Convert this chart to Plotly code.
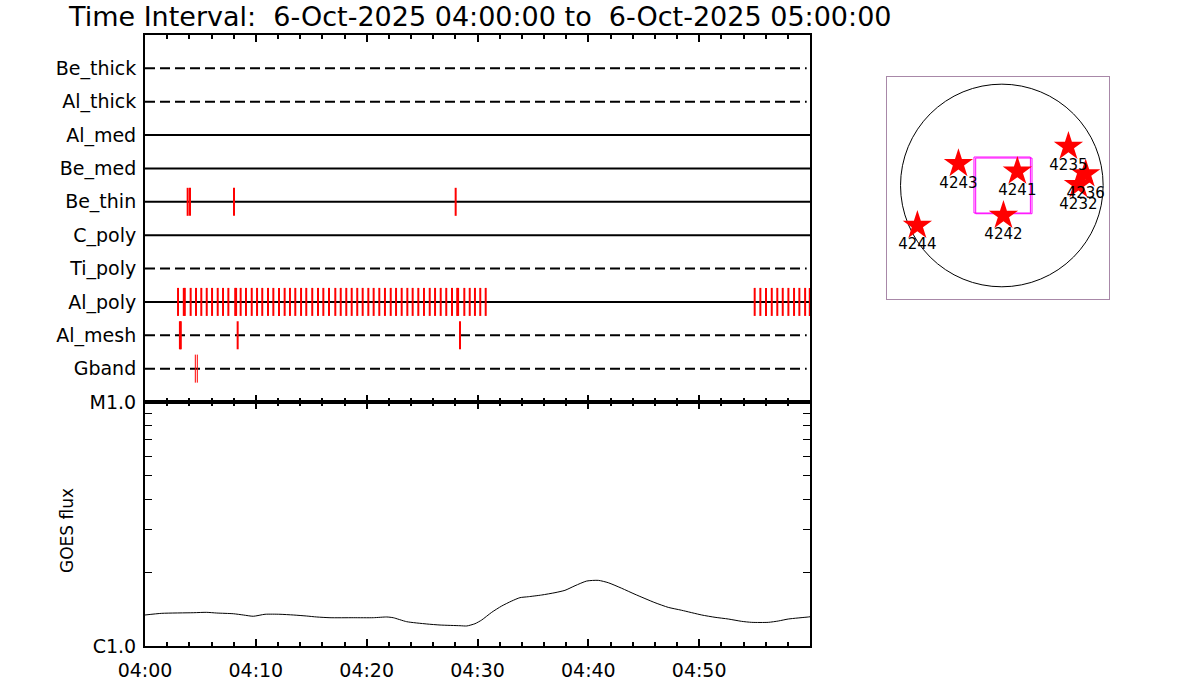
import plotly.graph_objects as go
import pandas as pd
import numpy as np

# ---------------- data ----------------
T0 = pd.Timestamp("2025-10-06 04:00:00")
title_text = "Time Interval:  6-Oct-2025 04:00:00 to  6-Oct-2025 05:00:00"

# filter rows, bottom to top
filters = ["Gband", "Al_mesh", "Al_poly", "Ti_poly", "C_poly",
           "Be_thin", "Be_med", "Al_med", "Al_thick", "Be_thick"]

# observation times, minutes after 04:00
obs_minutes = {
    "Gband": [4.54, 4.72],
    "Al_mesh": [3.15, 3.23, 8.36, 28.42],
    "Al_poly": [2.98, 3.50, 3.59, 4.12, 4.60, 5.08, 5.57, 6.05, 6.56, 7.04, 7.52,
                8.14, 8.22, 8.63, 9.11, 9.63, 10.11, 10.58, 11.10, 11.58, 12.09,
                12.60, 13.08, 13.56, 14.08, 14.55, 15.09, 15.61, 16.09, 16.60,
                17.17, 17.66, 18.16, 18.65, 19.15, 19.64, 20.15, 20.63, 21.14,
                21.65, 22.17, 22.65, 23.16, 23.67, 24.15, 24.66, 25.17, 25.69,
                26.17, 26.68, 27.18, 27.70, 28.17, 28.25, 28.81, 29.30, 29.77,
                30.25, 30.74,
                55.01, 55.52, 56.03, 56.55, 57.05, 57.54, 58.05, 58.56, 59.04,
                59.56, 59.98],
    "Be_thin": [3.85, 4.06, 8.03, 28.03],
}

# GOES flux (units of 1e-6 W/m^2) vs minutes after 04:00
goes_minutes = [0, 1.51, 4.36, 5.57, 6.47, 7.97, 8.87, 9.77, 10.83, 12.18, 13.38,
                14.59, 15.49, 16.69, 18.79, 20.60, 21.81, 22.40, 23.61, 25.42,
                26.62, 28.42, 29.03, 29.77, 30.38, 31.28, 32.18, 33.09, 33.83,
                34.58, 35.79, 36.99, 37.89, 38.80, 39.85, 40.90, 41.80, 43.01,
                44.21, 46.01, 47.21, 48.42, 50.23, 51.43, 52.63, 53.83, 54.74,
                56.24, 57.14, 58.04, 59.85, 60.0]
goes_flux = [1.340, 1.361, 1.369, 1.374, 1.365, 1.356, 1.340, 1.324, 1.349, 1.349,
             1.340, 1.327, 1.315, 1.306, 1.306, 1.306, 1.315, 1.306, 1.258, 1.231,
             1.219, 1.211, 1.208, 1.234, 1.278, 1.374, 1.458, 1.529, 1.578, 1.592,
             1.618, 1.654, 1.691, 1.766, 1.846, 1.858, 1.817, 1.724, 1.629, 1.505,
             1.440, 1.401, 1.340, 1.311, 1.290, 1.262, 1.250, 1.250, 1.266, 1.290,
             1.315, 1.318]

x_tick_minutes = [0, 10, 20, 30, 40, 50]
x_tick_labels = ["04:00", "04:10", "04:20", "04:30", "04:40", "04:50"]
goes_tick_vals = [1e-6, 1e-5]
goes_tick_labels = ["C1.0", "M1.0"]
goes_minor_vals = [2e-6, 3e-6, 4e-6, 5e-6, 6e-6, 7e-6, 8e-6, 9e-6]

# context map (arcsec-like units)
region_ids = ["4243", "4241", "4235", "4236", "4232", "4242", "4244"]
region_x = [-392, 192, 698, 869, 797, 54, -799]
region_y = [241, 165, 412, 139, 33, -272, -371]
disk_center = (38, 25)
disk_radius = 1004
fov_left = [-238, -221]
fov_right = [321, 337]
fov_bottom = [-248, -255]
fov_top = [307, 297]

# ---------------- styles ----------------
row_dash = {"Gband": "dash", "Al_mesh": "dash", "Al_poly": "solid", "Ti_poly": "dash",
            "C_poly": "solid", "Be_thin": "solid", "Be_med": "solid", "Al_med": "solid",
            "Al_thick": "dash", "Be_thick": "dash"}
FONT = "DejaVu Sans"


def tm(m):
    return T0 + pd.to_timedelta(m, unit="m")


fig = go.Figure()

# filter rows
for i, f in enumerate(filters):
    dash = "10px,5px" if row_dash[f] == "dash" else "solid"
    fig.add_trace(go.Scatter(x=[tm(0), tm(59.7 if dash != "solid" else 60)], y=[i, i],
                             mode="lines", line=dict(color="black", width=2, dash=dash),
                             xaxis="x", yaxis="y", hoverinfo="skip", showlegend=False))

for i, f in enumerate(filters):
    if f not in obs_minutes:
        continue
    xs, ys = [], []
    for m in obs_minutes[f]:
        xs += [tm(m), tm(m), None]
        ys += [i - 0.42, i + 0.42, None]
    fig.add_trace(go.Scatter(x=xs, y=ys, mode="lines",
                             line=dict(color="red", width=1 if f == "Gband" else 2),
                             xaxis="x", yaxis="y", hoverinfo="skip", showlegend=False))

# GOES curve
fig.add_trace(go.Scatter(x=[tm(m) for m in goes_minutes], y=[v * 1e-6 for v in goes_flux],
                         mode="lines", line=dict(color="black", width=1, shape="spline", smoothing=0.6),
                         xaxis="x2", yaxis="y2", showlegend=False))

# context map: FOV boxes
for l, r, b, t in zip(fov_left, fov_right, fov_bottom, fov_top):
    fig.add_trace(go.Scatter(x=[l, r, r, l, l], y=[b, b, t, t, b], mode="lines",
                             line=dict(color="#ff00ff", width=1), xaxis="x3", yaxis="y3",
                             hoverinfo="skip", showlegend=False))

# regions
fig.add_trace(go.Scatter(x=region_x, y=region_y, mode="markers",
                         marker=dict(symbol="star", size=22, color="red", line=dict(width=0)),
                         xaxis="x3", yaxis="y3", showlegend=False))
fig.add_trace(go.Scatter(x=region_x, y=[v - 200 for v in region_y], mode="text",
                         text=region_ids, textposition="middle center",
                         textfont=dict(family=FONT, size=15, color="black"),
                         xaxis="x3", yaxis="y3", showlegend=False))

fig.add_shape(type="circle", xref="x3", yref="y3",
              x0=disk_center[0] - disk_radius, x1=disk_center[0] + disk_radius,
              y0=disk_center[1] - disk_radius, y1=disk_center[1] + disk_radius,
              line=dict(color="black", width=1), layer="below")

W, H = 1200, 700


def px(x):
    return x / W


def py(y):
    return 1 - y / H


xdom = [px(145), px(810)]
axis_common = dict(showline=True, linecolor="black", linewidth=2, mirror="allticks",
                   showgrid=False, zeroline=False, automargin=False)

fig.update_layout(
    width=W, height=H, margin=dict(l=0, r=0, t=0, b=0, autoexpand=False),
    paper_bgcolor="white", plot_bgcolor="white",
    font=dict(family=FONT, color="black"),
    xaxis=dict(domain=xdom, anchor="y", type="date", range=[tm(0), tm(60)],
               ticks="inside", tickmode="linear", tick0=tm(0), dtick=600000,
               ticklen=7, tickwidth=2, tickcolor="black", showticklabels=False,
               minor=dict(ticks="inside", tickmode="linear", tick0=tm(0), dtick=120000,
                          ticklen=4, tickwidth=2, tickcolor="black"),
               **axis_common),
    yaxis=dict(domain=[py(402), py(35)], anchor="x", range=[-1, 10],
               tickmode="array", tickvals=list(range(len(filters))), ticktext=filters,
               ticks="", tickfont=dict(size=19), ticklabelstandoff=3,
               showline=True, linecolor="black", linewidth=2, mirror=True,
               showgrid=False, zeroline=False, automargin=False),
    xaxis2=dict(domain=xdom, anchor="y2", type="date", range=[tm(0), tm(60)],
                ticks="inside", tickmode="array", tickvals=[tm(m) for m in x_tick_minutes],
                ticktext=x_tick_labels, ticklen=7, tickwidth=2, tickcolor="black",
                tickfont=dict(size=19), ticklabelstandoff=6,
                minor=dict(ticks="inside", tickmode="linear", tick0=tm(0), dtick=120000,
                           ticklen=4, tickwidth=2, tickcolor="black"),
                **axis_common),
    yaxis2=dict(domain=[py(646), py(402)], anchor="x2", type="log", range=[-6, -5],
                tickmode="array", tickvals=goes_tick_vals, ticktext=goes_tick_labels,
                ticks="inside", ticklen=8, tickwidth=1, tickcolor="black",
                tickfont=dict(size=19), ticklabelstandoff=3,
                minor=dict(ticks="inside", tickvals=goes_minor_vals, ticklen=7,
                           tickwidth=1, tickcolor="black"),
                **axis_common),
    xaxis3=dict(domain=[px(887), px(1109)], anchor="y3", range=[-1100, 1100],
                showline=True, linecolor="#a888a8", linewidth=1, mirror=True,
                showgrid=False, zeroline=False, showticklabels=False, ticks="",
                automargin=False),
    yaxis3=dict(domain=[py(299), py(77)], anchor="x3", range=[-1100, 1100],
                showline=True, linecolor="#a888a8", linewidth=1, mirror=True,
                showgrid=False, zeroline=False, showticklabels=False, ticks="",
                automargin=False),
    annotations=[
        dict(text=title_text, x=px(66), y=py(16), xref="paper", yref="paper",
             xanchor="left", yanchor="middle", showarrow=False,
             font=dict(family=FONT, size=27, color="black")),
        dict(text="GOES flux", x=px(67), y=py(531), xref="paper", yref="paper",
             xanchor="center", yanchor="middle", textangle=-90, showarrow=False,
             font=dict(family=FONT, size=17, color="black")),
    ],
)

fig.write_html("out.html", config={"displayModeBar": False},
               post_script="document.body.style.margin='0';document.body.style.padding='0';")
